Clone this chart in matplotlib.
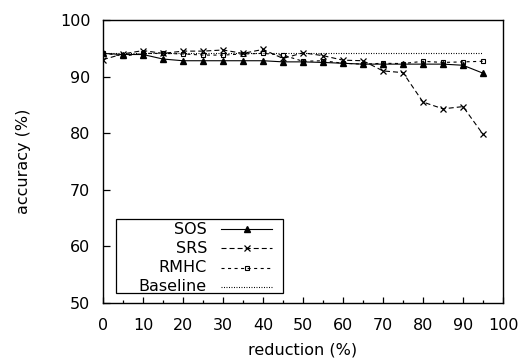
import numpy as np
import matplotlib
matplotlib.use('Agg')
import matplotlib.pyplot as plt
from matplotlib.lines import Line2D
from matplotlib.patches import Rectangle
from matplotlib.ticker import MultipleLocator

plt.rcParams['font.family'] = ['DejaVu Sans']
plt.rcParams['font.size'] = 11.5
plt.rcParams['lines.scale_dashes'] = False

# reduction levels (%) and accuracy (%) per method
reduction = [0, 5, 10, 15, 20, 25, 30, 35, 40, 45, 50, 55, 60, 65, 70, 75, 80, 85, 90, 95]
sos = [94.1, 93.9, 93.9, 93.1, 92.8, 92.8, 92.8, 92.8, 92.8, 92.6,
       92.6, 92.5, 92.35, 92.2, 92.2, 92.2, 92.2, 92.2, 92.0, 90.6]
srs = [93.0, 94.0, 94.6, 94.1, 94.5, 94.5, 94.7, 94.1, 94.8, 93.2,
       94.2, 93.7, 92.9, 92.8, 91.0, 90.7, 85.5, 84.3, 84.7, 79.8]
rmhc = [94.2, 93.6, 94.1, 94.1, 94.0, 93.8, 93.8, 94.0, 94.1, 93.8,
        92.7, 92.8, 92.35, 92.2, 92.35, 92.3, 92.7, 92.5, 92.6, 92.7]
baseline = 94.15

styles = {
    'SOS': dict(ls='-', marker='^', ms=3.8, mfc='black'),
    'SRS': dict(ls=(0, (3.6, 2.2)), marker='x', ms=3.8, mew=0.9),
    'RMHC': dict(ls=(0, (2.2, 2.5)), marker='s', ms=3.4, mfc='none', mew=0.8),
    'Baseline': dict(ls=(0, (0.7, 1.1)), marker=None),
}

fig = plt.figure(figsize=(5.32, 3.64), dpi=100)
ax = fig.add_axes([0.1936, 0.1676, 0.7519, 0.7775])

ax.plot(reduction, sos, color='black', lw=0.8, **styles['SOS'])
ax.plot(reduction, srs, color='black', lw=0.8, **styles['SRS'])
ax.plot(reduction, rmhc, color='black', lw=0.8, **styles['RMHC'])
ax.plot([0, 95], [baseline, baseline], color='black', lw=0.8, **styles['Baseline'])

ax.set_xlim(0, 100)
ax.set_ylim(50, 100)
ax.xaxis.set_major_locator(MultipleLocator(10))
ax.xaxis.set_minor_locator(MultipleLocator(5))
ax.yaxis.set_major_locator(MultipleLocator(10))
ax.tick_params(which='both', direction='in', top=False, right=False, width=0.9)
ax.tick_params(axis='x', which='major', length=4.5, pad=11)
ax.tick_params(axis='x', which='minor', length=2.5)
ax.tick_params(axis='y', which='major', length=5, pad=9)
for sp in ax.spines.values():
    sp.set_linewidth(1.0)

ax.set_xlabel('reduction (%)')
ax.set_ylabel('accuracy (%)')
ax.xaxis.set_label_coords(0.5, -0.14)
ax.yaxis.set_label_coords(-0.18, 0.5)

# gnuplot-style key: right-aligned labels, sample to the right
ax.add_patch(Rectangle((0.0325, 0.035), 0.4175, 0.262, transform=ax.transAxes,
                       fill=False, lw=0.9, edgecolor='black', zorder=5))
rows = [0.261, 0.194, 0.124, 0.057]
for (name, st), yy in zip(styles.items(), rows):
    ax.text(0.26, yy, name, transform=ax.transAxes, ha='right', va='center', zorder=6)
    ax.add_line(Line2D([0.295, 0.4225], [yy, yy], transform=ax.transAxes,
                       color='black', lw=0.8, ls=st['ls'], zorder=6))
    if st.get('marker'):
        kw = {k: v for k, v in st.items() if k != 'ls'}
        ax.add_line(Line2D([0.359], [yy], transform=ax.transAxes, color='black',
                           ls='none', zorder=6, **kw))

fig.savefig('out.png', dpi=100)
